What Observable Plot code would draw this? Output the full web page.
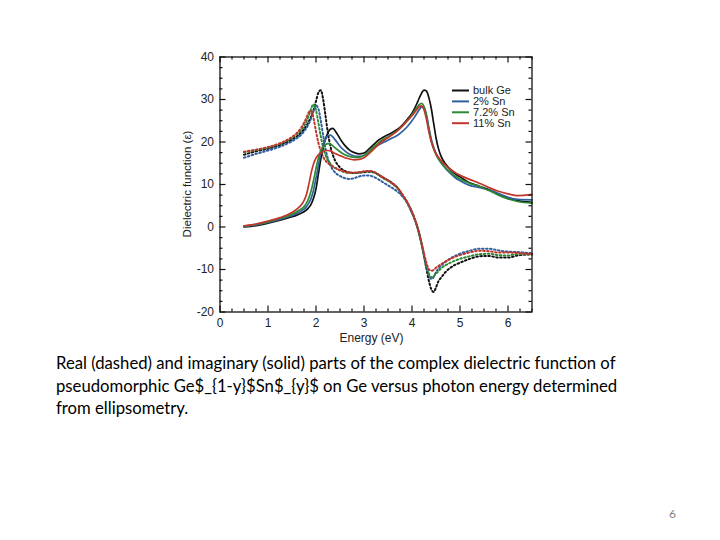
<!DOCTYPE html>
<html>
<head>
<meta charset="utf-8">
<script src="https://cdn.jsdelivr.net/npm/d3@7"></script>
<script src="https://cdn.jsdelivr.net/npm/@observablehq/plot@0.6"></script>
<style>
  html, body { margin: 0; padding: 0; background: #fff; }
  body { width: 720px; height: 540px; position: relative; overflow: hidden; font-family: "Liberation Sans", Arial, sans-serif; }
  #chart { position: absolute; left: 0; top: 0; }
  #caption { position: absolute; left: 56px; top: 352px; font-family: Lato, "Open Sans", sans-serif; font-size: 16.7px; line-height: 22.5px; color: #000; white-space: nowrap; }
  #page { position: absolute; left: 669px; top: 506px; font-family: Lato, sans-serif; font-size: 12px; color: #7f7f7f; }
</style>
</head>
<body>
<div id="chart"></div>
<div id="caption">Real (dashed) and imaginary (solid) parts of the complex dielectric function of<br>pseudomorphic Ge$_{1-y}$Sn$_{y}$ on Ge versus photon energy determined<br>from ellipsometry.</div>
<div id="page">6</div>
<script>
// Photon energy grid (eV), shared by all curves
const energy = [0.5, 0.75, 1.0, 1.25, 1.5, 1.6, 1.7, 1.75, 1.8, 1.85, 1.9, 1.95, 2.0, 2.05, 2.1, 2.15, 2.2, 2.25, 2.3, 2.35, 2.4,
  2.5, 2.6, 2.7, 2.8, 2.9, 3.0, 3.1, 3.2, 3.3, 3.4, 3.5, 3.6, 3.7, 3.8, 3.9, 4.0, 4.05, 4.1, 4.15, 4.2, 4.25, 4.3, 4.35, 4.4,
  4.45, 4.5, 4.55, 4.6, 4.7, 4.8, 4.9, 5.0, 5.2, 5.4, 5.6, 5.8, 6.0, 6.2, 6.5];

const seriesNames = ["bulk Ge", "2% Sn", "7.2% Sn", "11% Sn"];
const seriesColors = ["#111111", "#2f5f9f", "#2c8a32", "#c2352c"];

// Imaginary part ε2 (solid)
const imagBulkGe = [0.0, 0.3, 0.9, 1.6, 2.4, 2.8, 3.3, 3.6, 4.0, 4.6, 5.4, 6.8, 9.0, 12.5, 16.0, 18.8, 20.8, 22.2, 23.0, 23.2, 22.6,
  20.8, 19.2, 18.1, 17.5, 17.2, 17.4, 18.3, 19.4, 20.4, 21.1, 21.7, 22.3, 23.0, 24.0, 25.3, 26.8, 27.8, 29.0, 30.3, 31.5, 32.2, 32.0, 30.5, 28.0,
  24.5, 21.0, 18.5, 16.8, 14.8, 13.5, 12.5, 11.8, 10.4, 9.6, 8.8, 7.8, 6.8, 6.2, 5.8];
const imagSn2 = [0.1, 0.5, 1.1, 1.8, 2.7, 3.2, 3.8, 4.2, 4.8, 5.6, 6.8, 8.8, 11.5, 14.5, 17.3, 19.3, 20.7, 21.5, 21.6, 21.2, 20.5,
  19.0, 17.9, 17.1, 16.7, 16.6, 16.9, 17.6, 18.5, 19.3, 19.9, 20.4, 21.0, 21.6, 22.5, 23.6, 25.0, 25.8, 26.7, 27.6, 28.2, 28.0, 26.5, 23.5, 20.8,
  18.8, 17.3, 16.2, 15.3, 13.8, 12.6, 11.6, 10.9, 9.8, 9.3, 8.7, 7.9, 7.0, 6.5, 6.4];
const imagSn72 = [0.2, 0.6, 1.2, 2.0, 3.0, 3.6, 4.3, 4.8, 5.6, 6.8, 8.6, 11.0, 13.8, 16.2, 17.9, 18.9, 19.4, 19.6, 19.5, 19.1, 18.6,
  17.7, 17.0, 16.6, 16.4, 16.4, 16.8, 17.7, 18.8, 19.8, 20.6, 21.2, 21.9, 22.7, 23.7, 25.0, 26.4, 27.2, 28.0, 28.8, 29.1, 28.4, 26.2, 23.0, 20.3,
  18.4, 17.0, 16.0, 15.2, 13.9, 12.9, 12.0, 11.3, 10.3, 9.6, 8.6, 7.5, 6.6, 6.0, 5.6];
const imagSn11 = [0.3, 0.7, 1.4, 2.2, 3.4, 4.2, 5.3, 6.2, 7.6, 10.0, 12.8, 14.9, 16.2, 17.0, 17.5, 17.8, 18.0, 18.0, 17.9, 17.6, 17.3,
  16.8, 16.3, 16.0, 15.8, 15.9, 16.3, 17.2, 18.3, 19.4, 20.3, 21.0, 21.8, 22.7, 23.8, 25.0, 26.2, 26.9, 27.6, 28.3, 28.5, 27.6, 25.4, 22.5, 20.1,
  18.5, 17.3, 16.4, 15.7, 14.5, 13.6, 12.8, 12.2, 11.2, 10.3, 9.3, 8.4, 7.8, 7.4, 7.6];

// Real part ε1 (dotted)
const realBulkGe = [17.0, 17.8, 18.4, 19.3, 20.6, 21.3, 22.3, 23.0, 23.8, 24.8, 26.0, 27.6, 29.6, 31.6, 32.2, 30.0, 26.0, 22.0, 19.0, 17.0, 15.6,
  14.0, 13.2, 12.8, 12.7, 12.8, 12.9, 13.0, 12.9, 12.3, 11.6, 11.0, 10.2, 9.2, 7.5, 5.8, 3.4, 2.0, 0.4, -1.6, -4.0, -6.8, -9.8, -12.6, -14.6,
  -15.3, -14.2, -12.8, -12.0, -10.6, -9.6, -8.9, -8.4, -7.5, -6.9, -6.8, -7.2, -7.2, -6.7, -6.4];
const realSn2 = [16.3, 17.2, 18.0, 18.9, 20.2, 20.9, 21.8, 22.5, 23.3, 24.3, 25.6, 27.3, 28.6, 27.8, 25.0, 21.5, 18.3, 16.0, 14.5, 13.5, 12.8,
  12.0, 11.5, 11.3, 11.5, 11.9, 12.1, 12.1, 11.8, 11.2, 10.5, 9.8, 9.1, 8.3, 7.2, 5.6, 3.3, 2.0, 0.3, -1.7, -4.1, -6.8, -9.4, -11.3, -12.2,
  -11.8, -10.6, -9.8, -9.2, -8.2, -7.4, -6.8, -6.3, -5.6, -5.1, -5.1, -5.5, -5.8, -5.9, -6.2];
const realSn72 = [17.6, 18.1, 18.7, 19.6, 21.0, 21.8, 22.9, 23.7, 24.8, 26.2, 27.9, 28.9, 27.5, 24.5, 21.3, 18.7, 16.9, 15.7, 14.9, 14.3, 13.9,
  13.3, 12.9, 12.7, 12.7, 12.8, 13.0, 13.1, 12.9, 12.3, 11.5, 10.9, 10.1, 9.1, 7.6, 5.8, 3.5, 2.1, 0.4, -1.6, -4.0, -6.6, -9.0, -10.9, -11.8,
  -11.6, -11.0, -10.4, -9.8, -9.0, -8.4, -7.9, -7.5, -6.9, -6.4, -6.3, -6.6, -6.7, -6.4, -6.5];
const realSn11 = [17.7, 18.2, 18.8, 19.7, 21.2, 22.1, 23.5, 24.5, 25.7, 27.0, 27.3, 25.5, 22.5, 19.8, 17.8, 16.5, 15.6, 15.0, 14.6, 14.2, 13.9,
  13.4, 13.0, 12.8, 12.8, 12.9, 13.1, 13.2, 13.0, 12.4, 11.6, 11.0, 10.2, 9.2, 7.7, 5.9, 3.6, 2.2, 0.5, -1.5, -3.8, -6.2, -8.4, -9.9, -10.3,
  -10.1, -9.6, -9.2, -8.8, -8.1, -7.5, -7.0, -6.6, -6.0, -5.6, -5.7, -6.0, -6.0, -6.1, -6.4];

// Axis ticks
const xTickLabels = [0, 1, 2, 3, 4, 5, 6];
const yTickLabels = [-20, -10, 0, 10, 20, 30, 40];
const xMinorStep = 0.25;
const yMinorStep = 2.5;

const xDomain = [0, 6.5];
const yDomain = [-20, 40];

const imagSeries = [imagBulkGe, imagSn2, imagSn72, imagSn11];
const realSeries = [realBulkGe, realSn2, realSn72, realSn11];

const rows = (arrays) => arrays.flatMap((vals, s) =>
  vals.map((v, i) => ({series: seriesNames[s], E: energy[i], eps: v})));
const imagRows = rows(imagSeries);
const realRows = rows(realSeries);

// Layout of the plotting area
const W = 560, H = 345;
const mL = 219.5, mR = 28.5, mT = 56.5, mB = 33.5;
const kx = (W - mL - mR) / (xDomain[1] - xDomain[0]); // px per eV
const ky = (H - mT - mB) / (yDomain[1] - yDomain[0]); // px per unit ε
const majorLen = 6, minorLen = 3;

const xMinor = d3.range(xDomain[0], xDomain[1] + 1e-9, xMinorStep).filter(v => !xTickLabels.includes(v));
const yMinor = d3.range(yDomain[0], yDomain[1] + 1e-9, yMinorStep).filter(v => !yTickLabels.includes(v));

// inward ticks on all four sides
const tickMarks = (vals, len) => [
  Plot.ruleX(vals, {x: d => d, y1: yDomain[0], y2: yDomain[0] + len / ky, stroke: "#111", strokeWidth: 1.2}),
  Plot.ruleX(vals, {x: d => d, y1: yDomain[1] - len / ky, y2: yDomain[1], stroke: "#111", strokeWidth: 1.2})
];
const tickMarksY = (vals, len) => [
  Plot.ruleY(vals, {y: d => d, x1: xDomain[0], x2: xDomain[0] + len / kx, stroke: "#111", strokeWidth: 1.2}),
  Plot.ruleY(vals, {y: d => d, x1: xDomain[1] - len / kx, x2: xDomain[1], stroke: "#111", strokeWidth: 1.2})
];

const chart = Plot.plot({
  width: W,
  height: H,
  marginLeft: mL,
  marginRight: mR,
  marginTop: mT,
  marginBottom: mB,
  style: {fontFamily: "'Liberation Sans', Arial, sans-serif", fontSize: "12px", color: "#222", background: "transparent", overflow: "visible"},
  x: {domain: xDomain, ticks: xTickLabels, tickSize: 0, tickPadding: 6, tickFormat: d => String(d), label: null},
  y: {domain: yDomain, ticks: yTickLabels, tickSize: 0, tickPadding: 6, tickFormat: d => String(d), label: null},
  color: {domain: seriesNames, range: seriesColors},
  marks: [
    Plot.line(realRows, {x: "E", y: "eps", z: "series", stroke: "series", strokeWidth: 2, strokeDasharray: "1.6,2.4", curve: "monotone-x"}),
    Plot.line(imagRows, {x: "E", y: "eps", z: "series", stroke: "series", strokeWidth: 1.7, curve: "monotone-x"}),
    ...tickMarks(xTickLabels, majorLen),
    ...tickMarks(xMinor, minorLen),
    ...tickMarksY(yTickLabels, majorLen),
    ...tickMarksY(yMinor, minorLen),
    Plot.frame({stroke: "#111", strokeWidth: 1.3})
  ]
});

document.getElementById("chart").appendChild(chart);

const svg = d3.select(chart);

// axis titles
svg.append("text")
  .attr("x", 371.5)
  .attr("y", 342)
  .attr("text-anchor", "middle")
  .attr("font-family", "'Liberation Sans', Arial, sans-serif")
  .attr("font-size", 12)
  .attr("fill", "#222")
  .text("Energy (eV)");

svg.append("text")
  .attr("transform", `translate(191,${mT + (H - mT - mB) / 2}) rotate(-90)`)
  .attr("text-anchor", "middle")
  .attr("font-family", "'Liberation Sans', Arial, sans-serif")
  .attr("font-size", 11.5)
  .attr("fill", "#222")
  .text("Dielectric function (ε)");

// legend
const legend = svg.append("g").attr("transform", "translate(452,90.5)");
seriesNames.forEach((name, i) => {
  const g = legend.append("g").attr("transform", `translate(0,${i * 10.9})`);
  g.append("line").attr("x1", 0).attr("x2", 17).attr("y1", 0).attr("y2", 0)
    .attr("stroke", seriesColors[i]).attr("stroke-width", 2);
  g.append("text").attr("x", 21).attr("y", 3.8)
    .attr("text-anchor", "start")
    .attr("font-family", "'Liberation Sans', Arial, sans-serif")
    .attr("font-size", 11).attr("fill", "#222").text(name);
});
</script>
</body>
</html>
